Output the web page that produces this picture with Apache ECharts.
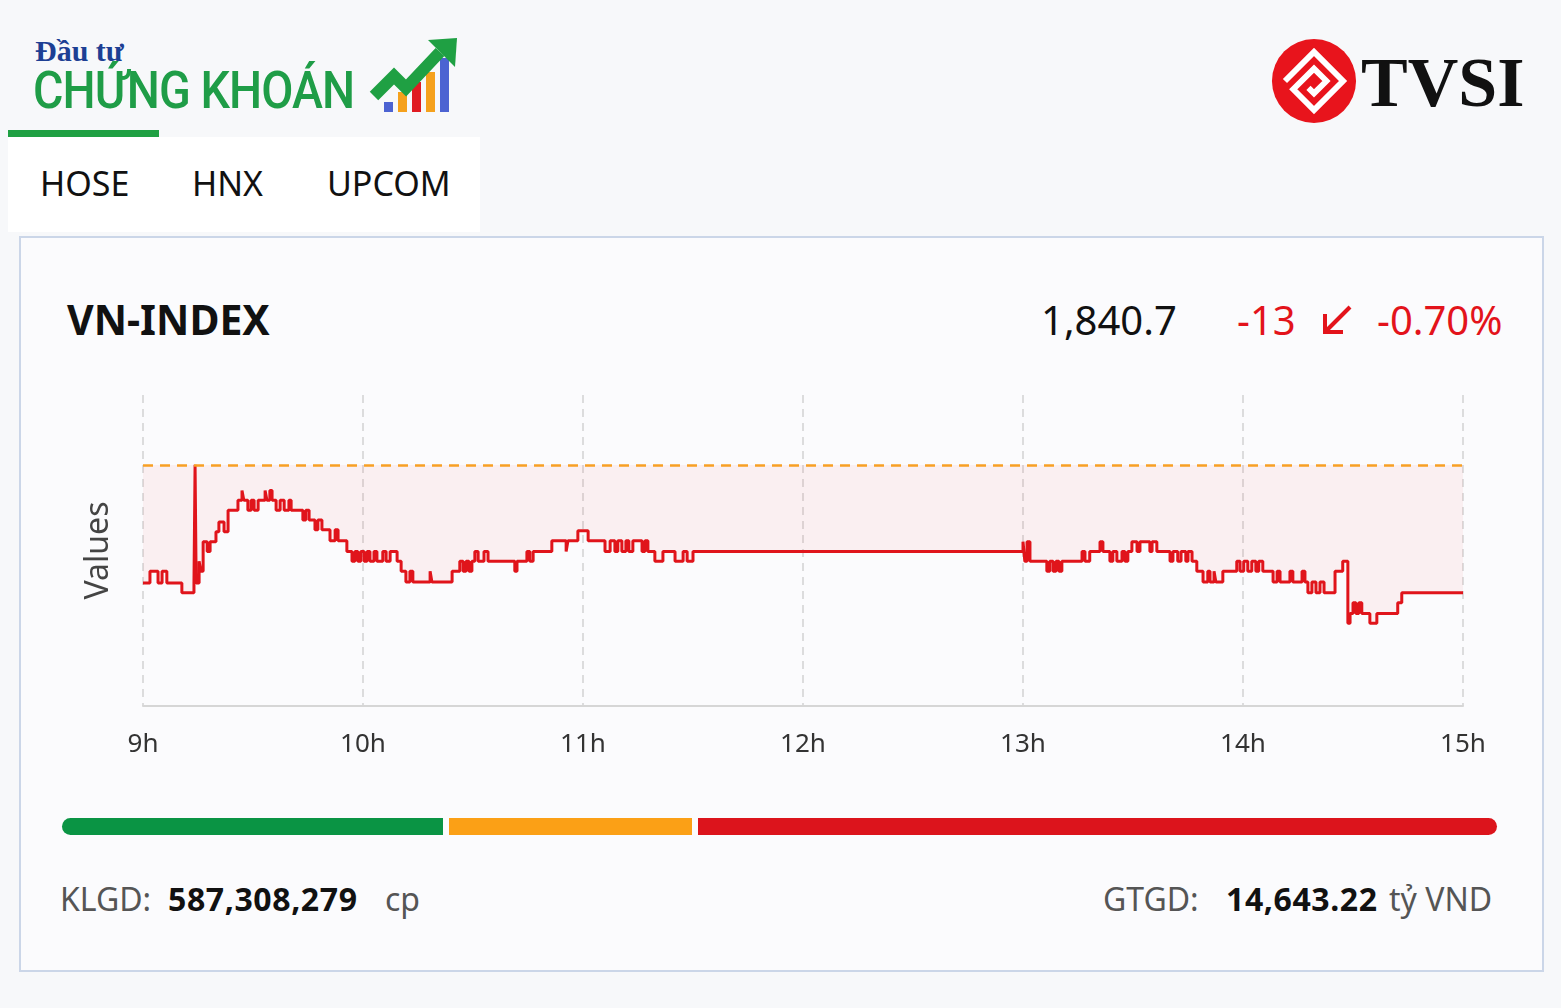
<!DOCTYPE html>
<html>
<head>
<meta charset="utf-8">
<script src="https://cdn.jsdelivr.net/npm/echarts@6/dist/echarts.min.js"></script>
<style>
  html, body { margin: 0; padding: 0; }
  body { width: 1561px; height: 1008px; background: #f7f8fa; position: relative; overflow: hidden; font-family: "Noto Sans", "Open Sans", sans-serif; }
  .abs { position: absolute; white-space: nowrap; line-height: 1; }
  .card { position: absolute; left: 19px; top: 236px; width: 1521px; height: 732px; border: 2px solid #cbd6e8; background: #fbfbfd; }
  .tabs { position: absolute; left: 8px; top: 137px; width: 472px; height: 95px; background: #ffffff; }
  .bar { position: absolute; top: 818px; height: 17px; }
  #chart { position: absolute; left: 0; top: 0; width: 1561px; height: 1008px; }
</style>
</head>
<body>
<div class="card"></div>
<div class="tabs"></div>
<div class="abs" style="left:8px;top:130px;width:151px;height:7px;background:#1fa043;"></div>

<!-- logo Dau tu Chung khoan -->
<div class="abs" style="left:35px;top:36px;font-family:'Liberation Serif',serif;font-weight:bold;font-size:30px;color:#1d3f94;">Đầu tư</div>
<div class="abs" style="left:33px;top:65px;font-family:Roboto,sans-serif;font-weight:500;font-size:51px;color:#1f9d47;letter-spacing:-1px;transform:scaleX(0.915);transform-origin:left top;">CHỨNG KHOÁN</div>
<svg class="abs" style="left:368px;top:34px;" width="95" height="82" viewBox="0 0 95 82">
  <rect x="16" y="68" width="9" height="10" fill="#4c63d2"/>
  <rect x="30" y="58" width="9" height="20" fill="#f5a11c"/>
  <rect x="44" y="48" width="9" height="30" fill="#e01b22"/>
  <rect x="58" y="38" width="9" height="40" fill="#f5a11c"/>
  <rect x="72" y="24" width="9" height="54" fill="#4c63d2"/>
  <polyline points="6,62 26,42 38,54 72,18" fill="none" stroke="#1fa043" stroke-width="12" stroke-linejoin="miter"/>
  <polygon points="60,6 89,4 87,33" fill="#1fa043"/>
</svg>

<!-- logo TVSI -->
<svg class="abs" style="left:1270px;top:37px;" width="88" height="88" viewBox="0 0 90 90">
  <circle cx="45" cy="45" r="43" fill="#e8141c"/>
  <g transform="rotate(45 45 45)" fill="none" stroke="#ffffff" stroke-width="6">
    <path d="M24 66 L24 24 L66 24 L66 66 L36 66 L36 36 L54 36 L54 54 L46 54"/>
  </g>
</svg>
<div class="abs" style="left:1361px;top:48px;font-family:'Liberation Serif',serif;font-weight:bold;font-size:70px;color:#111;">TVSI</div>

<!-- tabs -->
<div class="abs" style="left:40px;top:166px;font-size:34px;color:#111;">HOSE</div>
<div class="abs" style="left:192px;top:166px;font-size:34px;color:#111;">HNX</div>
<div class="abs" style="left:327px;top:166px;font-size:34px;color:#111;">UPCOM</div>

<!-- header of card -->
<div class="abs" style="left:67px;top:299px;font-size:41px;font-weight:bold;color:#111;">VN-INDEX</div>
<div class="abs" style="left:1041px;top:300px;font-size:40px;color:#111;">1,840.7</div>
<div class="abs" style="left:1237px;top:300px;font-size:40px;color:#e3131b;">-13</div>
<svg class="abs" style="left:1320px;top:303px;" width="34" height="34" viewBox="0 0 34 34">
  <line x1="30" y1="4" x2="6" y2="28" stroke="#e3131b" stroke-width="4"/>
  <polyline points="5,11 5,29 23,29" fill="none" stroke="#e3131b" stroke-width="4"/>
</svg>
<div class="abs" style="left:1377px;top:300px;font-size:40px;color:#e3131b;">-0.70%</div>

<!-- breadth bar -->
<div class="bar" style="left:62px;width:381px;background:#0a9444;border-radius:9px 0 0 9px;"></div>
<div class="bar" style="left:449px;width:243px;background:#fba016;"></div>
<div class="bar" style="left:698px;width:799px;background:#dc141c;border-radius:0 9px 9px 0;"></div>

<!-- footer -->
<div class="abs" style="left:60px;top:883px;font-size:32px;color:#555;">KLGD:</div>
<div class="abs" style="left:168px;top:883px;font-size:32px;font-weight:bold;color:#111;letter-spacing:0.6px;">587,308,279</div>
<div class="abs" style="left:385px;top:883px;font-size:32px;color:#555;">cp</div>
<div class="abs" style="left:1103px;top:883px;font-size:32px;color:#555;">GTGD:</div>
<div class="abs" style="left:1226px;top:883px;font-size:32px;font-weight:bold;color:#111;letter-spacing:0.6px;">14,643.22</div>
<div class="abs" style="left:1389px;top:883px;font-size:32px;color:#555;">tỷ VND</div>

<div id="chart"></div>
<script>
// gia tham chieu va du lieu trong phien (phut tinh tu 9h00)
const refPrice = 1853.7;
const minutes = [
  0, 1.9, 4.1, 5.2, 6.5, 10.6, 13.9, 14.2, 14.5, 15.3, 15.8, 16.4, 17.5, 18.3, 19.9, 20.7, 22.1, 23.2,
  25.9, 27.0, 27.5, 28.6, 29.5, 30.3, 31.4, 33.3, 33.8, 34.6, 35.2, 36.3, 37.4, 38.5, 39.8, 40.4,
  43.6, 44.4, 45.3, 46.9, 47.7, 48.8, 51.0, 52.4, 53.2, 54.5, 55.6, 57.0, 57.8, 58.6, 59.4, 60.3,
  61.1, 61.9, 63.0, 63.8, 65.4, 66.3, 67.4, 69.3, 70.4, 71.7, 72.8, 73.6, 78.3, 78.8, 84.3, 86.4,
  87.3, 88.1, 88.9, 89.7, 90.5, 91.4, 93.0, 94.1, 101.4, 102.0, 104.7, 105.5, 106.4, 111.5, 115.4,
  115.9, 118.6, 121.4, 126.0, 127.4, 128.7, 129.5, 130.6, 131.7, 132.5, 133.6, 136.1, 136.9, 137.7,
  139.6, 141.8, 145.1, 147.3, 148.4, 150.0,
  240.0, 240.5, 241.1, 241.9, 246.5, 247.3, 248.2, 249.0, 249.8, 250.6, 256.1, 256.9, 258.2, 261.0,
  261.8, 263.7, 264.5, 265.6, 267.0, 267.8, 268.6, 269.7, 271.1, 271.9, 274.6, 275.2, 276.5, 280.1,
  280.9, 282.2, 283.1, 284.4, 285.0, 286.1, 287.4, 289.1, 290.4, 291.0, 292.1, 292.6, 294.5, 298.3,
  299.2, 300.2, 301.3, 302.4, 303.5, 304.3, 305.4, 308.2, 309.3, 310.1, 312.8, 313.6, 316.1, 316.9,
  317.7, 318.8, 319.9, 321.0, 322.1, 325.1, 327.2, 328.6, 329.2, 330.0, 330.8, 331.6, 332.4, 334.6,
  336.5, 342.2, 343.3, 360
];
const values = [
  1841.7, 1842.9, 1841.7, 1842.9, 1841.7, 1840.7, 1841.7, 1853.7, 1841.7, 1843.9, 1842.9, 1845.9, 1844.9, 1845.9, 1846.9, 1847.9, 1846.9, 1849.1,
  1850.1, 1851.1, 1850.1, 1849.1, 1850.1, 1849.1, 1850.1, 1851.1, 1850.1, 1851.1, 1850.1, 1849.1, 1850.1, 1849.1, 1850.1, 1849.1,
  1848.1, 1849.1, 1848.1, 1847.1, 1848.1, 1847.1, 1846.0, 1847.1, 1846.0, 1846.0, 1844.9, 1843.9, 1844.9, 1843.9, 1844.9, 1843.9,
  1844.9, 1843.9, 1844.9, 1843.9, 1844.9, 1843.9, 1844.9, 1843.9, 1842.9, 1841.8, 1842.9, 1841.8, 1842.9, 1841.8, 1842.9, 1843.9,
  1842.9, 1843.9, 1842.9, 1843.9, 1844.9, 1843.9, 1844.9, 1843.9, 1842.9, 1843.9, 1844.9, 1843.9, 1844.9, 1846.0, 1844.9,
  1846.0, 1847.0, 1846.0, 1844.9, 1846.0, 1844.9, 1846.0, 1844.9, 1846.0, 1844.9, 1846.0, 1844.9, 1846.0, 1844.9,
  1843.9, 1844.9, 1843.9, 1844.9, 1843.9, 1844.9,
  1845.9, 1843.9, 1845.9, 1843.9, 1842.9, 1843.9, 1842.9, 1843.9, 1842.9, 1843.9, 1844.9, 1843.9, 1844.9, 1845.9,
  1844.9, 1843.9, 1844.9, 1843.9, 1844.9, 1843.9, 1844.9, 1845.9, 1844.9, 1845.9, 1844.9, 1845.9, 1844.9, 1843.9,
  1844.9, 1843.9, 1844.9, 1843.9, 1844.9, 1843.9, 1842.9, 1841.8, 1842.9, 1841.8, 1842.9, 1841.8, 1842.9, 1843.9,
  1842.9, 1843.9, 1842.9, 1843.9, 1842.9, 1843.9, 1842.9, 1841.8, 1842.9, 1841.8, 1842.9, 1841.8, 1842.9, 1841.8,
  1840.7, 1841.8, 1840.7, 1841.8, 1840.7, 1842.9, 1843.9, 1837.6, 1838.6, 1839.7, 1838.6, 1839.7, 1838.6, 1837.6,
  1838.6, 1839.7, 1840.7, 1840.7
];
const hourLabels = ['9h', '10h', '11h', '12h', '13h', '14h', '15h'];

const chartInstance = echarts.init(document.getElementById('chart'));
const seriesData = minutes.map((m, i) => [m, values[i]]);

chartInstance.setOption({
  animation: false,
  grid: { left: 143, top: 395, width: 1320, height: 311 },
  xAxis: {
    type: 'value',
    min: 0,
    max: 360,
    interval: 60,
    axisLine: { lineStyle: { color: '#d6d6d6', width: 2 } },
    axisTick: { show: false },
    axisLabel: {
      margin: 26,
      fontSize: 26,
      color: '#333',
      fontFamily: 'Noto Sans',
      formatter: (v) => hourLabels[v / 60]
    },
    splitLine: { show: true, lineStyle: { type: [8, 6], color: '#d2d2d2', width: 1.5 } }
  },
  yAxis: {
    type: 'value',
    min: 1829.2,
    max: 1860.8,
    name: 'Values',
    nameLocation: 'middle',
    nameGap: 28,
    nameTextStyle: { fontSize: 32, color: '#444', fontFamily: 'Noto Sans' },
    axisLine: { show: false },
    axisTick: { show: false },
    axisLabel: { show: false },
    splitLine: { show: false }
  },
  series: [{
    type: 'line',
    step: 'end',
    symbol: 'none',
    data: seriesData,
    lineStyle: { color: '#e0141b', width: 3 },
    areaStyle: { color: 'rgba(235, 90, 90, 0.10)', origin: refPrice },
    markLine: {
      silent: true,
      symbol: 'none',
      label: { show: false },
      lineStyle: { color: '#f8a024', type: [10, 7], width: 2.5 },
      data: [{ yAxis: refPrice }]
    }
  }]
});
</script>
</body>
</html>
